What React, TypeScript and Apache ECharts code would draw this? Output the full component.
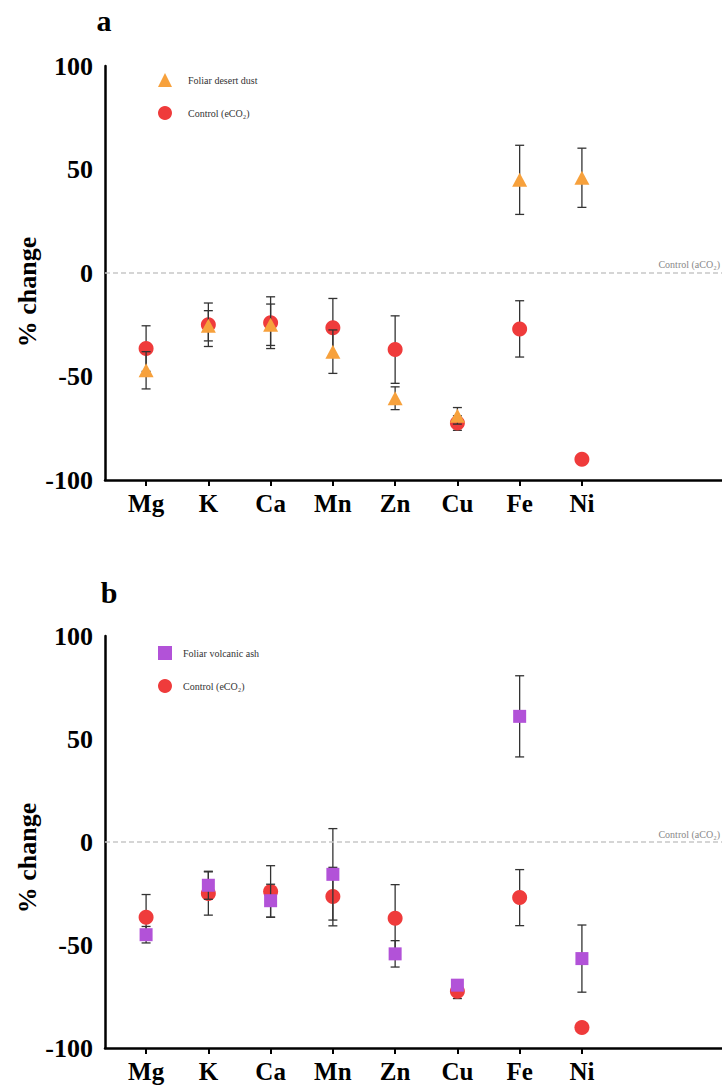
import React, { useEffect, useRef } from 'react';
import * as echarts from 'echarts';

const categories = ['Mg', 'K', 'Ca', 'Mn', 'Zn', 'Cu', 'Fe', 'Ni'];
const controlMean = [-36.5, -25, -24, -26.5, -37, -72.5, -27, -90];
const controlErr = [11, 10.5, 12.5, 14.2, 16.3, 3.5, 13.6, 0];
const dustMean = [-47, -25.5, -25, -38, -60.5, -69, 45, 46];
const dustErr = [9, 7.3, 10, 10.5, 5.5, 4, 16.7, 14.3];
const ashMean = [-45, -21, -28.5, -15.7, -54.3, -69.5, 61, -56.6];
const ashErr = [4, 6.8, 8, 22.2, 6.4, 2, 19.7, 16.3];

const CONTROL = 'Control (eCO₂)';
const DUST = 'Foliar desert dust';
const ASH = 'Foliar volcanic ash';
const FONT = "'Liberation Serif', 'Times New Roman', serif";
const RED = '#EF3B3B';
const ORANGE = '#F7A13C';
const PURPLE = '#B252D8';

const tickIdx = categories.map((_, i) => i);

function points(means: number[]) {
  return means.map((m, i) => [i, m]);
}
function bars(means: number[], errs: number[]) {
  return means
    .map((m, i) => [i, m - errs[i], m + errs[i], errs[i]])
    .filter((d) => d[3] > 0);
}

function errorSeries(g: number, means: number[], errs: number[], z: number) {
  return {
    type: 'custom',
    xAxisIndex: g,
    yAxisIndex: g,
    z,
    silent: true,
    data: bars(means, errs),
    encode: { x: 0, y: [1, 2] },
    renderItem: (params: any, api: any) => {
      const x = api.value(0);
      const lo = api.coord([x, api.value(1)]);
      const hi = api.coord([x, api.value(2)]);
      const hw = 4.5;
      const style = { stroke: '#333', lineWidth: 1.3 };
      return {
        type: 'group',
        children: [
          { type: 'line', shape: { x1: lo[0], y1: lo[1], x2: hi[0], y2: hi[1] }, style },
          { type: 'line', shape: { x1: lo[0] - hw, y1: lo[1], x2: lo[0] + hw, y2: lo[1] }, style },
          { type: 'line', shape: { x1: hi[0] - hw, y1: hi[1], x2: hi[0] + hw, y2: hi[1] }, style },
        ],
      };
    },
  };
}

function xAxis(g: number) {
  return {
    type: 'value',
    gridIndex: g,
    min: -0.66,
    max: 9.25,
    axisLine: { show: true, onZero: false, lineStyle: { color: '#000', width: 2.5 } },
    axisTick: { show: true, customValues: tickIdx, length: 6, lineStyle: { color: '#000', width: 2 } },
    axisLabel: {
      customValues: tickIdx,
      formatter: (v: number) => categories[Math.round(v)] ?? '',
      fontFamily: FONT,
      fontWeight: 'bold',
      fontSize: 25,
      color: '#000',
      margin: 11,
    },
    splitLine: { show: false },
  };
}

function yAxis(g: number) {
  return {
    type: 'value',
    gridIndex: g,
    min: -100,
    max: 100,
    interval: 50,
    axisLine: { show: true, onZero: false, lineStyle: { color: '#000', width: 2.5 } },
    axisTick: { show: false },
    axisLabel: { fontFamily: FONT, fontWeight: 'bold', fontSize: 26, color: '#000', margin: 12 },
    splitLine: { show: false },
  };
}

function panelSeries(g: number, tName: string, tMean: number[], tErr: number[], tSymbol: string, tSize: any, tColor: string) {
  return [
    errorSeries(g, controlMean, controlErr, 1),
    {
      type: 'scatter',
      name: CONTROL,
      xAxisIndex: g,
      yAxisIndex: g,
      z: 2,
      symbol: 'circle',
      symbolSize: 15,
      itemStyle: { color: RED, opacity: 1 },
      data: points(controlMean),
      markLine: {
        silent: true,
        symbol: 'none',
        label: { show: false },
        lineStyle: { type: [5, 3], color: '#c8c8c8', width: 1.5 },
        data: [{ yAxis: 0 }],
      },
    },
    errorSeries(g, tMean, tErr, 3),
    {
      type: 'scatter',
      name: tName,
      xAxisIndex: g,
      yAxisIndex: g,
      z: 4,
      symbol: tSymbol,
      symbolSize: tSize,
      itemStyle: { color: tColor, opacity: 1 },
      data: points(tMean),
    },
  ];
}

function legend(top: number, names: { name: string; icon: string }[], pad: number) {
  return {
    orient: 'vertical',
    left: 153,
    top,
    itemWidth: 14,
    itemHeight: 14,
    itemGap: 19,
    selectedMode: false,
    data: names,
    textStyle: { fontFamily: FONT, fontSize: 10, color: '#333', padding: [0, 0, 0, pad] },
  };
}

export default function App() {
  const ref = useRef<HTMLDivElement>(null);
  useEffect(() => {
    if (!ref.current) return;
    const chart = echarts.init(ref.current, null, { renderer: 'svg' });
    const option: any = {
      animation: false,
      backgroundColor: '#fff',
      grid: [
        { left: 105, right: 0, top: 66, height: 414 },
        { left: 105, right: 0, top: 636, height: 412 },
      ],
      xAxis: [xAxis(0), xAxis(1)],
      yAxis: [yAxis(0), yAxis(1)],
      legend: [
        legend(68, [
          { name: DUST, icon: 'triangle' },
          { name: CONTROL, icon: 'circle' },
        ], 11),
        legend(641, [
          { name: ASH, icon: 'rect' },
          { name: CONTROL, icon: 'circle' },
        ], 6),
      ],
      graphic: [
        { type: 'text', x: 104, y: 20, style: { text: 'a', font: `bold 30px ${FONT}`, fill: '#000', align: 'center', verticalAlign: 'middle' } },
        { type: 'text', x: 109, y: 592, style: { text: 'b', font: `bold 30px ${FONT}`, fill: '#000', align: 'center', verticalAlign: 'middle' } },
        { type: 'text', x: 27, y: 292, rotation: Math.PI / 2, style: { text: '% change', font: `bold 26px ${FONT}`, fill: '#000', align: 'center', verticalAlign: 'middle' } },
        { type: 'text', x: 27, y: 858, rotation: Math.PI / 2, style: { text: '% change', font: `bold 26px ${FONT}`, fill: '#000', align: 'center', verticalAlign: 'middle' } },
        { type: 'text', x: 720, y: 264, style: { text: 'Control (aCO₂)', font: `10px ${FONT}`, fill: '#888', align: 'right', verticalAlign: 'middle' } },
        { type: 'text', x: 720, y: 834, style: { text: 'Control (aCO₂)', font: `10px ${FONT}`, fill: '#888', align: 'right', verticalAlign: 'middle' } },
      ],
      series: [
        ...panelSeries(0, DUST, dustMean, dustErr, 'triangle', [15, 14], ORANGE),
        ...panelSeries(1, ASH, ashMean, ashErr, 'rect', 13, PURPLE),
      ],
    };
    chart.setOption(option);
    return () => chart.dispose();
  }, []);
  return (
    <div
      ref={ref}
      style={{ position: 'absolute', left: 0, top: 0, width: 722, height: 1092 }}
    />
  );
}
